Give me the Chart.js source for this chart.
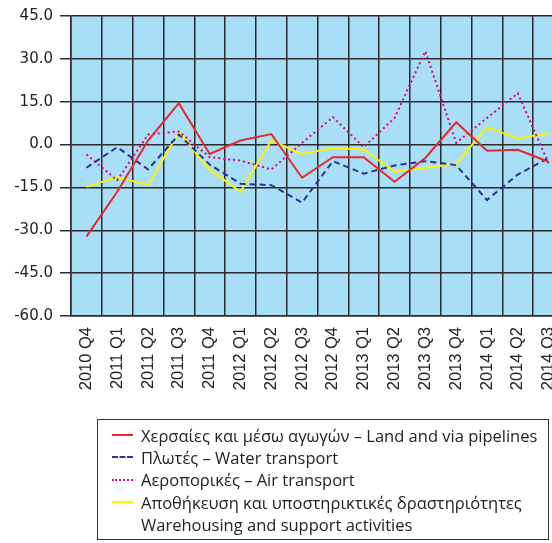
<!DOCTYPE html>
<html>
<head>
<meta charset="utf-8">
<script src="https://cdn.jsdelivr.net/npm/chart.js@4"></script>
<style>
    html, body { margin: 0; padding: 0; background: #fff; overflow: hidden; }
    #wrap { position: relative; width: 552px; height: 543px; overflow: hidden; }
    #chart { position: absolute; left: 0; top: 0; }
    #legend {
        position: absolute; left: 97px; top: 419px; width: 452px; height: 121px;
        border: 1.5px solid #333; box-sizing: border-box;
        font-family: "Open Sans", sans-serif; font-size: 16.5px; color: #222;
        padding-top: 4px;
    }
    .row { display: flex; align-items: center; height: 22.3px; white-space: nowrap; }
    .sample { width: 21px; margin-left: 14px; margin-right: 8px; height: 0; }
    .row.cont { padding-left: 43px; }
</style>
</head>
<body>
<div id="wrap">
    <canvas id="chart" width="564" height="420"></canvas>
    <div id="legend"></div>
</div>
<script>
document.addEventListener("DOMContentLoaded", () => {
    // 1. Data
    const categories = [
        "2010 Q4", "2011 Q1", "2011 Q2", "2011 Q3", "2011 Q4", "2012 Q1", "2012 Q2", "2012 Q3",
        "2012 Q4", "2013 Q1", "2013 Q2", "2013 Q3", "2013 Q4", "2014 Q1", "2014 Q2", "2014 Q3",
    ];
    const land = [-32.2, -16.5, 1.4, 14.5, -3.3, 1.4, 3.7, -11.6, -4.4, -4.4, -13.0, -4.7, 7.8, -2.2, -1.8, -6.0];
    const water = [-8.1, -0.9, -8.7, 3.5, -7.0, -13.7, -14.2, -20.3, -5.8, -10.2, -7.3, -5.8, -7.2, -19.4, -10.5, -4.7];
    const air = [-3.5, -12.5, 3.5, 4.6, -4.4, -5.6, -8.7, 0.6, 9.6, -0.9, 9.3, 32.7, 0.6, 9.3, 18.0, -6.6];
    const warehousing = [-14.8, -11.4, -14.2, 4.3, -8.7, -16.5, 1.4, -3.3, -1.2, -1.7, -9.5, -8.1, -6.7, 6.1, 2.1, 4.0];
    const yTicks = [-60, -45, -30, -15, 0, 15, 30, 45];

    const series = [
        { label: ["Χερσαίες και μέσω αγωγών – Land and via pipelines"], data: land, color: "#e8282c", dash: [], css: "solid" },
        { label: ["Πλωτές – Water transport"], data: water, color: "#2e3192", dash: [6, 4], css: "dashed" },
        { label: ["Αεροπορικές – Air transport"], data: air, color: "#e5007d", dash: [2, 3], css: "dotted" },
        { label: ["Αποθήκευση και υποστηρικτικές δραστηριότητες", "Warehousing and support activities"], data: warehousing, color: "#fff200", dash: [], css: "solid" },
    ];

    // 2. Plot background
    const plotBg = {
        id: "plotBg",
        beforeDraw(chart) {
            const { ctx, chartArea: a } = chart;
            ctx.save();
            ctx.fillStyle = "#a9def7";
            ctx.fillRect(a.left, a.top, a.right - a.left, a.bottom - a.top);
            ctx.restore();
        },
    };

    const ctx = document.getElementById("chart").getContext("2d");
    new Chart(ctx, {
        type: "line",
        data: {
            labels: categories,
            datasets: series.map((s) => ({
                label: s.label.join(" "),
                data: s.data,
                borderColor: s.color,
                backgroundColor: s.color,
                borderWidth: 2,
                borderDash: s.dash,
                pointRadius: 0,
                tension: 0,
                fill: false,
            })),
        },
        options: {
            responsive: false,
            animation: false,
            layout: { padding: { top: 14, left: 0, right: 0, bottom: 0 } },
            scales: {
                x: {
                    offset: true,
                    grid: { offset: true, color: "#2b2b2b", lineWidth: 1.5, drawTicks: false },
                    border: { color: "#2b2b2b", width: 1.5 },
                    ticks: {
                        color: "#222",
                        font: { family: "Liberation Sans", size: 16.5 },
                        minRotation: 90,
                        maxRotation: 90,
                        padding: 11,
                        autoSkip: false,
                    },
                    afterFit: (scale) => {
                        scale.height = 104;
                        scale.paddingLeft = 0;
                        scale.paddingRight = 0;
                    },
                },
                y: {
                    min: -60,
                    max: 45,
                    afterBuildTicks: (scale) => { scale.ticks = yTicks.map((v) => ({ value: v })); },
                    grid: { color: "#2b2b2b", lineWidth: 1.5, tickLength: 11 },
                    border: { color: "#2b2b2b", width: 1.5 },
                    ticks: {
                        color: "#222",
                        font: { family: "DejaVu Sans", size: 15 },
                        padding: 7,
                        callback: (v) => Number(v).toFixed(1),
                    },
                    afterFit: (scale) => { scale.width = 71; },
                },
            },
            plugins: {
                legend: { display: false },
                tooltip: { enabled: false },
            },
        },
        plugins: [plotBg],
    });

    // 3. Legend (HTML)
    const legend = document.getElementById("legend");
    series.forEach((s) => {
        s.label.forEach((text, i) => {
            const row = document.createElement("div");
            row.className = i === 0 ? "row" : "row cont";
            if (i === 0) {
                const sample = document.createElement("span");
                sample.className = "sample";
                sample.style.borderTop = "2px " + s.css + " " + s.color;
                row.appendChild(sample);
            }
            const span = document.createElement("span");
            span.textContent = text;
            row.appendChild(span);
            legend.appendChild(row);
        });
    });
});
</script>
</body>
</html>
